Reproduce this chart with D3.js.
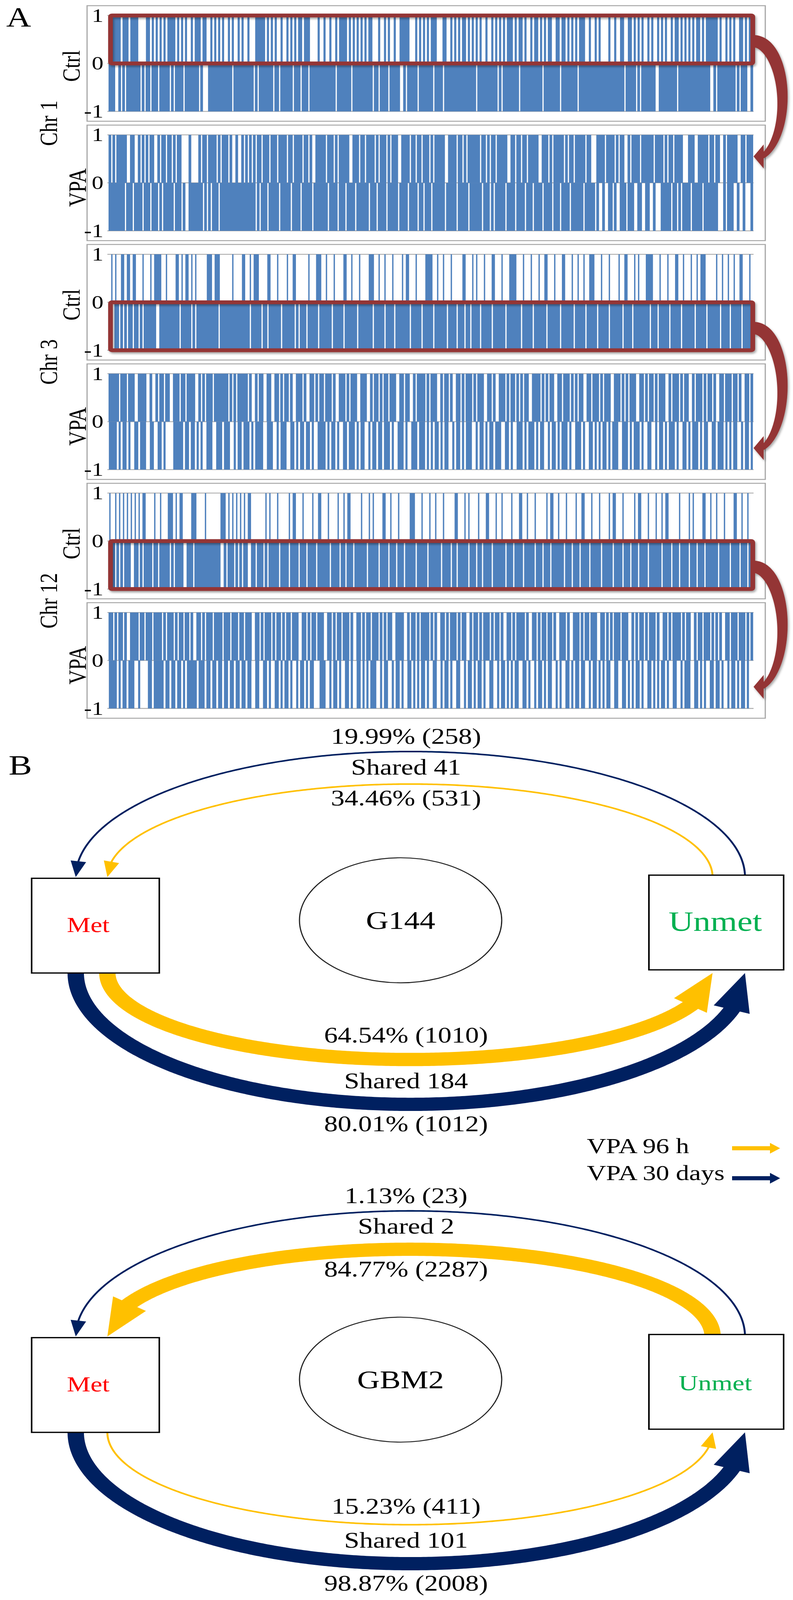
<!DOCTYPE html>
<html lang="en">
<head>
<meta charset="UTF-8">
<title>Methylation barcode and Met/Unmet transitions</title>
<style>
  html, body { margin: 0; padding: 0; background: #fff; overflow: hidden; }
  svg { display: block; }
  svg text { font-family: "Liberation Serif", "Times New Roman", serif; }
</style>
<script src="https://d3js.org/d3.v7.min.js"></script>
</head>
<body>
<div id="container"></div>
<script>
// ---------- panel A data: one char per probe bin, '#' = probe called (+1 in Up rows, -1 in Down rows) ----------
var chr1CtrlUp = `######.### .####....# #.#.#.#.#. ####.#.#.# ..#.###.## ..#.#.#.#. .#.#..#.#. .#...##### .#.#.#..#. .#.#.#.##.
 ###....#.. #..#..#.## ##.#.#.#.# .#.##...#. .#.#..#..# ####...#.# .#.#.###.. .##..#.#.# .##.#.#.#. #..#..#.#.
 #.#.###.#. ##.#..#.## .#.#.##..# #.##.#.#.# .###..#..# .#....#..# ..##..##.# .#.#..#.#. .#.#.#..#. ##.#.#.#.#
 .##.#.#### ##.#..#.#. #..##.#.##`;
var chr1CtrlDown = `###..#.#.# ######.#.# #.###.#### #.#.####.# ######.#.. .######### ###.###### ####.#.### ####.##.## ####.###.#
 ##.####### ######.### ####.##### #####.##.# ###.#####. .#.#####.# ######.### #.######## ########.# #########.
 #.######## .######### ##.####### #.######## .######### ########## ####.##### .#.####### ..######## #.########
 ########.. #.######## #.#.###..#`;
var chr1VpaUp = `#.#.#####. .##..#.#.# .##..#.##. ##.#.##... .#....#.## .####.#.## #.#..#..#. #.#.#.##.# ##.###.### #.##.####.
 ##.#..#### #.###.#.## ###..###.# #.####.#.# ##.#.###.. ####.##.## .###.#.### ##..####.# #.#.###### .##.#.##.#
 ####..##.# #.##.##### ..###.#.## ###.#.##.# ####.##... ####.####. #.##..#.## ##.######. ####.#.##. ####...###
 ..#####.## .##..#.### ##..##.###`;
var chr1VpaDown = `########.# ##.####.## #.###.#.## ###.###.#. .#######.# .#.###.### ########## #####.#.## #.#####.## ###.####.#
 ####.##### ##.####.## #.####.### ###.###.## ##.#####.# ###.####.# #.###.#### ##.#####.# ####.##### #.###.#.##
 ###.####.# ###.###.## ##.####.## #.####.### ###.#####. #..#..##.# ..###.###. .##..##..# ...#####.# #.#.####.#
 ####.##### ##...#.### ..#..#...#`;
var chr3CtrlUp = `.#.#..##.# #.##...#.. .#.####..# ....##.#.# #.#.#..... ###.###... ...#....## ..#.###... .##...#... .#..##....
 ..#...###. .#...#.... ##..#...#. ...###..#. .#...#.... #.##...#.. ..####..#. .#...#.... .##...#.#. ..#...##..
 .#...####. ..#...#... #..##...#. ..##...#.. #..#..###. ..#...#... .#..##...# .#...####. ..#...#... ##..#...#.
 .#.###.... .#..#..#.. #..##...#.`;
var chr3CtrlDown = `#..##.#.#. ##.##.#.## ####..#### ######.### ##.#.##### ######.### ########## ##.#####.# #.######.# #####.#.##
 #.#####.## ####.##### .######.## #####.#### #.####.### ####.##### .#####.### ###.####.# ##.##.#### .#####.###
 ###.###### #.#####.## ####.##### #.######.# ####.##### .#####.### ###.####.# #######.## #.#####.## ###.######
 .#####.### ###.####.# ####.#####`;
var chr3VpaUp = `#####.###. ###..####. .#..#.##.# #..###.##. ####..#.#. ###.###### #.#.#.#### #.#..#.##. .##..##.#. ##.#..###.
 #..##.#.## .###.#..## #.#.###..# ##..#.##.# .##.###..# #.##..#.## ##.#.###.. #.##.#..## .#.###.#.# ##..##.#..
 ###.#.##.# .#.##..### #.#.#.##.. ##.###.#.# .##..##.## #.#.###..# ##.#.#.### ..##.#.##. #.###..#.# ##.#.##..#
 .###.#.##. #..##.###. ##.#..##.#`;
var chr3VpaDown = `####.#.##. #..##.###. .##..##.#. ...#####.# #.##.#.#.. ###..###.# ##..#.##.# ##.#.####. .###..#.## #..##.#.##
 .##.#..### #.#.##.#.. ##.###.#.# #..#.##.## .###.#..## #.#..###.# ##.#.#.##. #.##..#.## .#.###..#. ##.#.##.##
 #..##.#..# ##.#.###.# .##..#.##. #.###.#..# ##.#..##.# .#.##.#.## #..###.#.# ##.#..##.. #.##.#.### .#..##.#.#
 ##.#.##..# #.###.#.#. ##..#.##.#`;
var chr12CtrlUp = `#..#.#.#.# .#.#.#.##. ...#..#... ###.#.##.. ..###....# .......### .#.#.#.#.# .##....... #.#...#... ..#.##...#
 ....#..##. ..#....#.. #.##.....# ...#.#.... ##..#...#. ....###... #...#..#.. .#.....##. ..#.#....# ...##...#.
 .#....#... ##..#...#. ....#.##.. #...#....# ..##...#.. .#....#.## ...#.....# .##...#... #..#.##... ..#....#.#
 ....##..#. .#...#.... ##..#..#..`;
var chr12CtrlDown = `#.#.#.#.## #..##.#.## ##.##.#### #.#.####.. ###.###### #######..# .###.#.#.# #..##.###. #.#####.## ##.####.##
 #.####.### ###.####.# #.###.#### ##.#####.# ###.###.## #.#####.## ###.###### .####.##.# ####.###.# #.####.###
 ###.###.## ##.#####.# ##.###.### ###.###.## #.####.### ##.#####.# ###.###.## #.####.### ###.####.# ##.####.##
 #.###.#### ##.#####.# ###.###.##`;
var chr12VpaUp = `##.#.##.#. .####.##.# ##.####.#. ###.#.##.# #.#..##.#. ###.####.# ##.###.##. ###..##.#. ###.#.##.# .##.###..#
 #.#.##.### ..##.#.##. ###.#..##. #.##.###.# .#.##..### #..#.##.#. ####.#.#.. ##.#.###.# .##..#.##. #.###.#.##
 .#..##.#.# ###.#..##. #.##.##.#. .###.#..## #.#.##.### ..##.#.#.# ##.###..#. #.##.#.### .#..##.#.# ###.#.##..
 #.##.###.# .#.#..##.# ##.###.#.#`;
var chr12VpaDown = `####.#.##. ###..#.... ##.#####.# #.##.##.#. #####.###. ##.##.##.# #.##.##.## .##..##..# #.#..##.#. ##.#..#.##
 .#.##...## #..#.##.#. .##.#..##. #.#.###..# .##..#.##. #..##.#.#. ##.#..##.. #.##.#..## ..#.##.#.# #.#..##..#
 .##.#.#.## ..##.#..#. ##.#.##..# .#..##.#.# #.##..#.## .#.#.##..# #..##.#.#. ##.#..##.# .#.##.#..# #..#.###..
 ##.#.#..## .##.#..#.# #.#.##.#..`;

var chromosomes = ["Chr 1", "Chr 3", "Chr 12"];
var conditions = ["Ctrl", "VPA"];
var upRows = [chr1CtrlUp, chr1VpaUp, chr3CtrlUp, chr3VpaUp, chr12CtrlUp, chr12VpaUp];
var downRows = [chr1CtrlDown, chr1VpaDown, chr3CtrlDown, chr3VpaDown, chr12CtrlDown, chr12VpaDown];
var highlightHalf = [1, -1, -1];   // half of the Ctrl track boxed in red, per chromosome
var yTicks = [1, 0, -1];
var nBins = 330;

// ---------- panel B data ----------
var cellLines = ["G144", "GBM2"];
var unmetToMet30d = [19.99, 1.13], unmetToMet30dN = [258, 23];
var unmetToMet96h = [34.46, 84.77], unmetToMet96hN = [531, 2287];
var sharedUnmetToMet = [41, 2];
var metToUnmet96h = [64.54, 15.23], metToUnmet96hN = [1010, 411];
var metToUnmet30d = [80.01, 98.87], metToUnmet30dN = [1012, 2008];
var sharedMetToUnmet = [184, 101];
var legendLabels = ["VPA 96 h", "VPA 30 days"];

var NAVY = "#002060", GOLD = "#FFC000", BAR = "#4F81BD", BOXRED = "#943634", GRID = "#A6A6A6";

// drawing is laid out on a 2031 x 5068 canvas and stretched to fill the window
var W = 2031, H = 5068;
var svg = d3.select('#container').append('svg')
    .attr('width', window.innerWidth || W).attr('height', window.innerHeight || H)
    .attr('viewBox', '0 0 ' + W + ' ' + H).attr('preserveAspectRatio', 'none');
var defs = svg.append('defs');
defs.append('filter').attr('id', 'shadow').attr('x', '-20%').attr('y', '-20%').attr('width', '150%').attr('height', '150%')
    .append('feDropShadow').attr('dx', 3).attr('dy', 5).attr('stdDeviation', 3)
    .attr('flood-color', '#000').attr('flood-opacity', 0.35);

// consecutive called bins are merged into one bar; thin single lines like the original
function toRuns(s, v) {
    s = s.replace(/\s/g, '');
    var runs = [], start = -1;
    for (var i = 0; i <= s.length; i++) {
        if (s[i] === '#') { if (start < 0) start = i; }
        else if (start >= 0) { runs.push({start: start, end: i - 1, val: v}); start = -1; }
    }
    var density = (s.match(/#/g) || []).length / s.length;
    var adj = density > 0.6 ? 2 : density < 0.4 ? -1.6 : 0.4;
    runs.forEach(function(r) { r.adj = adj; });
    return runs;
}

// ================= PANEL A =================
svg.append('text').text('A').attr('x', 16).attr('y', 84).attr('font-size', 88);

var plotLeft = 279, plotRight = 1928, frameLeft = 223, frameRight = 1960;
var x = d3.scaleBand().domain(d3.range(nBins)).range([plotLeft, plotRight]).padding(0);
var bw = x.bandwidth();
var scales = [];

upRows.forEach(function(up, i) {
    var top = 18 + i * 378.2;
    var y = d3.scaleLinear().domain([-1, 1]).range([top + 335, top + 31]);
    scales.push(y);
    var g = svg.append('g');
    g.append('rect').attr('x', frameLeft).attr('y', top).attr('width', frameRight - frameLeft).attr('height', 366)
        .attr('fill', '#fff').attr('stroke', GRID).attr('stroke-width', 3);

    g.selectAll('line.grid').data(yTicks).enter().append('line')
        .attr('x1', plotLeft - 4).attr('x2', plotRight + 2)
        .attr('y1', function(d) { return y(d); }).attr('y2', function(d) { return y(d); })
        .attr('stroke', GRID).attr('stroke-width', 2.5);

    var runs = toRuns(up, 1).concat(toRuns(downRows[i], -1));
    g.selectAll('rect.bar').data(runs).enter().append('rect')
        .attr('x', function(d) { return x(d.start) - d.adj / 2; })
        .attr('width', function(d) { return (d.end - d.start + 1) * bw + d.adj; })
        .attr('y', function(d) { return Math.min(y(0), y(d.val)); })
        .attr('height', function(d) { return Math.abs(y(d.val) - y(0)); })
        .attr('fill', BAR);

    var ax = g.append('g').attr('transform', 'translate(' + (plotLeft - 8) + ',0)')
        .call(d3.axisLeft(y).tickValues(yTicks).tickSize(0).tickPadding(6).tickFormat(function(d) { return String(d); }));
    ax.select('.domain').remove();
    ax.attr('font-family', null).attr('font-size', null);
    ax.selectAll('text').attr('font-size', 60).attr('fill', '#000');

    var cond = conditions[i % 2];
    var mid = top + 183;
    g.append('text').text(cond)
        .attr('transform', 'translate(' + (cond === 'Ctrl' ? 204 : 220) + ',' + (mid + (cond === 'Ctrl' ? 8 : 15)) + ') rotate(-90)')
        .attr('text-anchor', 'middle').attr('font-size', 64);
});

chromosomes.forEach(function(c, k) {
    var yc = 18 + (2 * k + 1) * 378.2 - 6;
    svg.append('text').text(c)
        .attr('transform', 'translate(146,' + yc + ') rotate(-90)')
        .attr('text-anchor', 'middle').attr('font-size', 64);

    var h = highlightHalf[k];
    var yCtrl = scales[2 * k], yVpa = scales[2 * k + 1];
    var g = svg.append('g').attr('filter', 'url(#shadow)');
    var y0 = yCtrl(Math.max(0, h)), y1 = yCtrl(Math.min(0, h));
    g.append('rect').attr('x', plotLeft + 4).attr('y', y0).attr('width', plotRight - plotLeft - 4).attr('height', y1 - y0)
        .attr('rx', 4).attr('fill', 'none').attr('stroke', BOXRED).attr('stroke-width', 12);

    // curved arrow from the boxed half of Ctrl to the same half of VPA
    var ys = yCtrl(h * 0.5) + 6, yt = yVpa(h * 0.55);
    var te = 1.28, rx = 73;
    var ry = (yt - ys) / (1 + Math.sin(te)), cx = plotRight + 3, cy = ys + ry;
    var outer = [], inner = [], n = 80;
    for (var j = 0; j <= n; j++) {
        var t = -Math.PI / 2 + (te + Math.PI / 2) * j / n;
        var px = cx + rx * Math.cos(t), py = cy + ry * Math.sin(t);
        var nx = Math.cos(t) / rx, ny = Math.sin(t) / ry, nl = Math.hypot(nx, ny);
        nx /= nl; ny /= nl;
        var w = 40 + (15 - 40) * j / n;
        outer.push([px + nx * w / 2, py + ny * w / 2]);
        inner.push([px - nx * w / 2, py - ny * w / 2]);
    }
    g.append('path').attr('d', d3.line()(outer.concat(inner.reverse())) + 'Z').attr('fill', BOXRED);
    var bx = cx + rx * Math.cos(te) + 4, by = cy + ry * Math.sin(te);
    g.append('path').attr('d', d3.line()([[bx - 26, by], [bx, by - 38], [bx, by + 38]]) + 'Z').attr('fill', BOXRED);
});

// ================= PANEL B =================
svg.append('text').text('B').attr('x', 22).attr('y', 2453).attr('font-size', 90);

var widthScale = d3.scaleThreshold().domain([50]).range([5, 42]);
var headScale = d3.scaleThreshold().domain([50]).range([{len: 48, hw: 20}, {len: 120, hw: 48}]);
var sectionTop = [2782, 4237];
var unmetFont = [88, 69];
var labelX = 1040;

function ellipsePts(cx, cy, rx, ry, t0, t1) {
    return d3.range(0, 401).map(function(i) {
        var t = t0 + (t1 - t0) * i / 400;
        return [cx + rx * Math.cos(t), cy + ry * Math.sin(t)];
    });
}
function flowArrow(g, pts, color, pct) {
    var w = widthScale(pct), head = headScale(pct);
    var len = 0, k = pts.length - 1;
    while (k > 0 && len < head.len) {
        len += Math.hypot(pts[k][0] - pts[k - 1][0], pts[k][1] - pts[k - 1][1]);
        k--;
    }
    var tip = pts[pts.length - 1], base = pts[k];
    g.append('path').attr('d', d3.line()(pts.slice(0, Math.min(pts.length - 1, k + 4))))
        .attr('fill', 'none').attr('stroke', color).attr('stroke-width', w);
    var dx = tip[0] - base[0], dy = tip[1] - base[1], d = Math.hypot(dx, dy);
    var nx = -dy / d * head.hw, ny = dx / d * head.hw;
    g.append('path').attr('d', d3.line()([tip, [base[0] + nx, base[1] + ny], [base[0] - nx, base[1] - ny]]) + 'Z')
        .attr('fill', color);
}
function label(txt, y) {
    svg.append('text').text(txt).attr('x', labelX).attr('y', y).attr('text-anchor', 'middle').attr('font-size', 70);
}
function pctLabel(p, n) { return p.toFixed(2) + '% (' + n + ')'; }

cellLines.forEach(function(name, s) {
    var T = sectionTop[s];
    var g = svg.append('g');
    var topY = T - 4, botY = T + 300;

    var wNT = widthScale(unmetToMet30d[s]), ryNT = 400 - wNT / 2;
    var wYT = widthScale(unmetToMet96h[s]), ryYT = 297 - wYT / 2;
    var wYB = widthScale(metToUnmet96h[s]), ryYB = 295 - wYB / 2;
    var wNB = widthScale(metToUnmet30d[s]), ryNB = 437 - wNB / 2;

    flowArrow(g, ellipsePts(1051, topY, 857, ryNT, 0, -Math.PI), NAVY, unmetToMet30d[s]);
    flowArrow(g, ellipsePts(1050, topY, 775, ryYT, 0, -Math.PI), GOLD, unmetToMet96h[s]);
    flowArrow(g, ellipsePts(1050, botY, 775, ryYB, Math.PI, 0), GOLD, metToUnmet96h[s]);
    flowArrow(g, ellipsePts(1051, botY, 857, ryNB, Math.PI, 0), NAVY, metToUnmet30d[s]);

    // nodes
    g.append('rect').attr('x', 81).attr('y', T).attr('width', 327).attr('height', 300)
        .attr('fill', '#fff').attr('stroke', '#000').attr('stroke-width', 4);
    g.append('rect').attr('x', 1662).attr('y', T - 10).attr('width', 345).attr('height', 300)
        .attr('fill', '#fff').attr('stroke', '#000').attr('stroke-width', 4);
    g.append('ellipse').attr('cx', 1026).attr('cy', T + 133).attr('rx', 259).attr('ry', 198)
        .attr('fill', 'none').attr('stroke', '#222').attr('stroke-width', 3);
    g.append('text').text('Met').attr('x', 226).attr('y', T + 170).attr('text-anchor', 'middle')
        .attr('font-size', 68).attr('fill', '#FF0000');
    g.append('text').text('Unmet').attr('x', 1832).attr('y', T + 166).attr('text-anchor', 'middle')
        .attr('font-size', unmetFont[s]).attr('fill', '#00B050');
    g.append('text').text(name).attr('x', 1026).attr('y', T + 160).attr('text-anchor', 'middle').attr('font-size', 80);

    label(pctLabel(unmetToMet30d[s], unmetToMet30dN[s]), topY - ryNT - wNT / 2 - 22);
    label('Shared ' + sharedUnmetToMet[s], topY - ryYT - wYT / 2 - 28);
    label(pctLabel(unmetToMet96h[s], unmetToMet96hN[s]), topY - ryYT + wYT / 2 + 65);
    label(pctLabel(metToUnmet96h[s], metToUnmet96hN[s]), botY + ryYB - wYB / 2 - 33);
    label('Shared ' + sharedMetToUnmet[s], botY + ryNB - wNB / 2 - 30);
    label(pctLabel(metToUnmet30d[s], metToUnmet30dN[s]), botY + ryNB + wNB / 2 + 64);
});

// legend
var legendColors = [GOLD, NAVY];
var legendY = [3637, 3732];
legendLabels.forEach(function(l, i) {
    var yc = legendY[i];
    svg.append('text').text(l).attr('x', 1503).attr('y', yc + 12 + (i ? -6 : 3)).attr('font-size', 68);
    svg.append('path')
        .attr('d', d3.line()([[1875, yc - 6.5], [1972, yc - 6.5], [1972, yc - 17], [1998, yc], [1972, yc + 17], [1972, yc + 6.5], [1875, yc + 6.5]]) + 'Z')
        .attr('fill', legendColors[i]);
});
</script>
</body>
</html>
